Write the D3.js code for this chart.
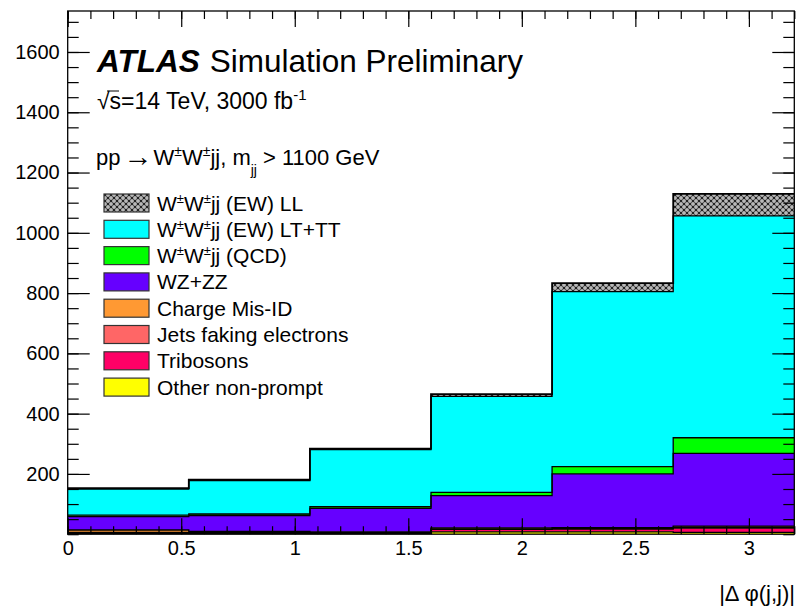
<!DOCTYPE html>
<html>
<head>
<meta charset="utf-8">
<script src="https://cdn.jsdelivr.net/npm/d3@7"></script>
<style>
  body { margin: 0; background: #fff; }
  text { font-family: "Liberation Sans", Arial, Helvetica, sans-serif; fill: #000; }
</style>
</head>
<body>
<svg id="chart" width="796" height="606"></svg>
<script>
// |Δφ(j,j)| bin edges
const binEdges = [0, 0.5333, 1.0667, 1.6, 2.1333, 2.6667, 3.2];

// Expected events per bin, one array per process (bottom of the stack first)
const otherNonPrompt = [2, 1, 1, 8, 8, 6];
const tribosons      = [2, 2, 2, 8, 9, 14];
const jetsFaking     = [2, 2, 2, 2, 2, 3];
const chargeMisId    = [8, 4, 3, 3, 3, 4];
const wzzz           = [44, 53, 78, 107, 178, 241];
const ssQcd          = [5, 5, 5, 11, 24, 52];
const ssEwLtTt       = [87, 111, 190, 318, 581, 736];
const ssEwLL         = [3, 3, 3, 8, 28, 73];

const yMajorTicks = [200, 400, 600, 800, 1000, 1200, 1400, 1600];
const xMajorTicks = [0, 0.5, 1, 1.5, 2, 2.5, 3];

const processes = [
  { key: "other", label: [["t","Other non-prompt"]],        values: otherNonPrompt, color: "#ffff00" },
  { key: "tri",   label: [["t","Tribosons"]],               values: tribosons,      color: "#ff0066" },
  { key: "jets",  label: [["t","Jets faking electrons"]],   values: jetsFaking,     color: "#ff6666" },
  { key: "qmis",  label: [["t","Charge Mis-ID"]],           values: chargeMisId,    color: "#ff9933" },
  { key: "wz",    label: [["t","WZ+ZZ"]],                   values: wzzz,           color: "#6600ff" },
  { key: "qcd",   label: [["t","W"],["s","±"],["t","W"],["s","±"],["t","jj (QCD)"]],       values: ssQcd,    color: "#00ff00" },
  { key: "ewtt",  label: [["t","W"],["s","±"],["t","W"],["s","±"],["t","jj (EW) LT+TT"]],  values: ssEwLtTt, color: "#00ffff" },
  { key: "ewll",  label: [["t","W"],["s","±"],["t","W"],["s","±"],["t","jj (EW) LL"]],     values: ssEwLL,   color: "url(#hatch)" }
];

const frame = { left: 67.7, right: 794.3, top: 11, bottom: 534.2 };
const yMax = 1736;

const x = d3.scaleLinear().domain([0, 3.2]).range([frame.left, frame.right]);
const y = d3.scaleLinear().domain([0, yMax]).range([frame.bottom, frame.top]);

const svg = d3.select("#chart");

// cross-hatched fill used for the longitudinal component
const defs = svg.append("defs");
const pat = defs.append("pattern").attr("id", "hatch")
  .attr("patternUnits", "userSpaceOnUse").attr("width", 6).attr("height", 6);
pat.append("rect").attr("width", 6).attr("height", 6).attr("fill", "#b8b8b8");
pat.append("path").attr("d", "M0,0L6,6M6,0L0,6").attr("stroke", "#555").attr("stroke-width", 1.1);
[[3, 3], [0, 0], [6, 0], [0, 6], [6, 6]].forEach(([cx, cy]) =>
  pat.append("circle").attr("cx", cx).attr("cy", cy).attr("r", 1.1).attr("fill", "#151515"));

svg.append("clipPath").attr("id", "plotClip").append("rect")
  .attr("x", frame.left).attr("y", frame.top)
  .attr("width", frame.right - frame.left).attr("height", frame.bottom - frame.top);

// table of bins for the stack layout
const rows = binEdges.slice(0, -1).map((lo, i) => {
  const r = { lo, hi: binEdges[i + 1] };
  processes.forEach(p => { r[p.key] = p.values[i]; });
  return r;
});
const stacked = d3.stack().keys(processes.map(p => p.key))(rows);

function stepPoints(series) {
  const pts = [];
  series.forEach(d => {
    pts.push({ x: d.data.lo, y0: d[0], y1: d[1] });
    pts.push({ x: d.data.hi, y0: d[0], y1: d[1] });
  });
  return pts;
}

const area = d3.area().x(d => x(d.x)).y0(d => y(d.y0)).y1(d => y(d.y1));
const line = d3.line().x(d => x(d.x)).y(d => y(d.y1));

const plot = svg.append("g").attr("clip-path", "url(#plotClip)");

stacked.forEach((s, i) => {
  plot.append("path").attr("d", area(stepPoints(s)))
    .attr("fill", processes[i].color).attr("stroke", "none");
});
stacked.forEach((s, i) => {
  plot.append("path").attr("d", line(stepPoints(s)))
    .attr("fill", "none").attr("stroke", "#000")
    .attr("stroke-width", i === stacked.length - 1 ? 1.8 : 1.3);
});

// axes: ticks point inward on all four sides
const fontPx = 20;
const yMinor = d3.range(0, yMax, 50);
const xMinor = d3.range(0, 3.21, 0.1);

function styleAxis(g) {
  g.select(".domain").remove();
  g.selectAll(".tick line").attr("stroke", "#000").attr("stroke-width", 1.2);
  g.selectAll("text").style("font-size", fontPx + "px").attr("fill", "#000");
}

svg.append("g").attr("transform", `translate(${frame.left},0)`)
  .call(d3.axisLeft(y).tickValues(yMinor).tickSize(-11).tickFormat(""))
  .call(styleAxis);
svg.append("g").attr("transform", `translate(${frame.left},0)`)
  .call(d3.axisLeft(y).tickValues(yMajorTicks).tickSize(-22).tickPadding(8).tickFormat(d3.format("d")))
  .call(styleAxis);
svg.append("g").attr("transform", `translate(${frame.right},0)`)
  .call(d3.axisRight(y).tickValues(yMinor).tickSize(-11).tickFormat(""))
  .call(styleAxis);
svg.append("g").attr("transform", `translate(${frame.right},0)`)
  .call(d3.axisRight(y).tickValues(yMajorTicks).tickSize(-22).tickFormat(""))
  .call(styleAxis);

svg.append("g").attr("transform", `translate(0,${frame.bottom})`)
  .call(d3.axisBottom(x).tickValues(xMinor).tickSize(-8).tickFormat(""))
  .call(styleAxis);
svg.append("g").attr("transform", `translate(0,${frame.bottom})`)
  .call(d3.axisBottom(x).tickValues(xMajorTicks).tickSize(-16).tickPadding(7).tickFormat(d3.format("")))
  .call(styleAxis);
svg.append("g").attr("transform", `translate(0,${frame.top})`)
  .call(d3.axisTop(x).tickValues(xMinor).tickSize(-8).tickFormat(""))
  .call(styleAxis);
svg.append("g").attr("transform", `translate(0,${frame.top})`)
  .call(d3.axisTop(x).tickValues(xMajorTicks).tickSize(-16).tickFormat(""))
  .call(styleAxis);

svg.append("rect")
  .attr("x", frame.left).attr("y", frame.top)
  .attr("width", frame.right - frame.left).attr("height", frame.bottom - frame.top)
  .attr("fill", "none").attr("stroke", "#000").attr("stroke-width", 1.3);

// axis title
svg.append("text").attr("x", 795).attr("y", 601).attr("text-anchor", "end")
  .style("font-size", "22px").text("|Δ φ(j,j)|");

// labels
const title = svg.append("text").attr("x", 97).attr("y", 72).style("font-size", "31.5px");
title.append("tspan").attr("font-weight", "bold").attr("font-style", "italic").text("ATLAS");
title.append("tspan").attr("dx", 10).text("Simulation Preliminary");

const energy = svg.append("text").attr("x", 97).attr("y", 109).style("font-size", "23px");
energy.append("tspan").text("√s=14 TeV, 3000 fb");
energy.append("tspan").attr("dy", -9).style("font-size", "15px").text("-1");
svg.append("line").attr("x1", 107).attr("x2", 119).attr("y1", 91).attr("y2", 91)
  .attr("stroke", "#000").attr("stroke-width", 1);

const proc = svg.append("text").attr("x", 96).attr("y", 165).style("font-size", "22px");
proc.append("tspan").text("pp");
proc.append("tspan").attr("dx", 3).attr("dy", 1).style("font-size", "29px").text("→");
proc.append("tspan").attr("dx", 1).attr("dy", -1).text("W");
proc.append("tspan").attr("dy", -9).style("font-size", "14px").text("±");
proc.append("tspan").attr("dy", 9).text("W");
proc.append("tspan").attr("dy", -9).style("font-size", "14px").text("±");
proc.append("tspan").attr("dy", 9).text("jj, m");
proc.append("tspan").attr("dy", 10).style("font-size", "14px").text("jj");
proc.append("tspan").attr("dy", -10).attr("dx", 6).text("> 1100 GeV");

// legend, listed from the top of the stack down
const legendItems = processes.slice().reverse();
const legend = svg.append("g");
legendItems.forEach((p, i) => {
  const cy = 203 + i * 26.3;
  legend.append("rect").attr("x", 104).attr("y", cy - 9).attr("width", 45).attr("height", 18)
    .attr("fill", p.color).attr("stroke", "#333").attr("stroke-width", 1.2);
  const t = legend.append("text").attr("x", 157).attr("y", cy + 7.5).style("font-size", "21px");
  let shifted = false;
  p.label.forEach(([kind, str]) => {
    const ts = t.append("tspan").text(str);
    if (kind === "s") { ts.attr("dy", -8).style("font-size", "13px"); shifted = true; }
    else if (shifted) { ts.attr("dy", 8); shifted = false; }
  });
});
</script>
</body>
</html>
